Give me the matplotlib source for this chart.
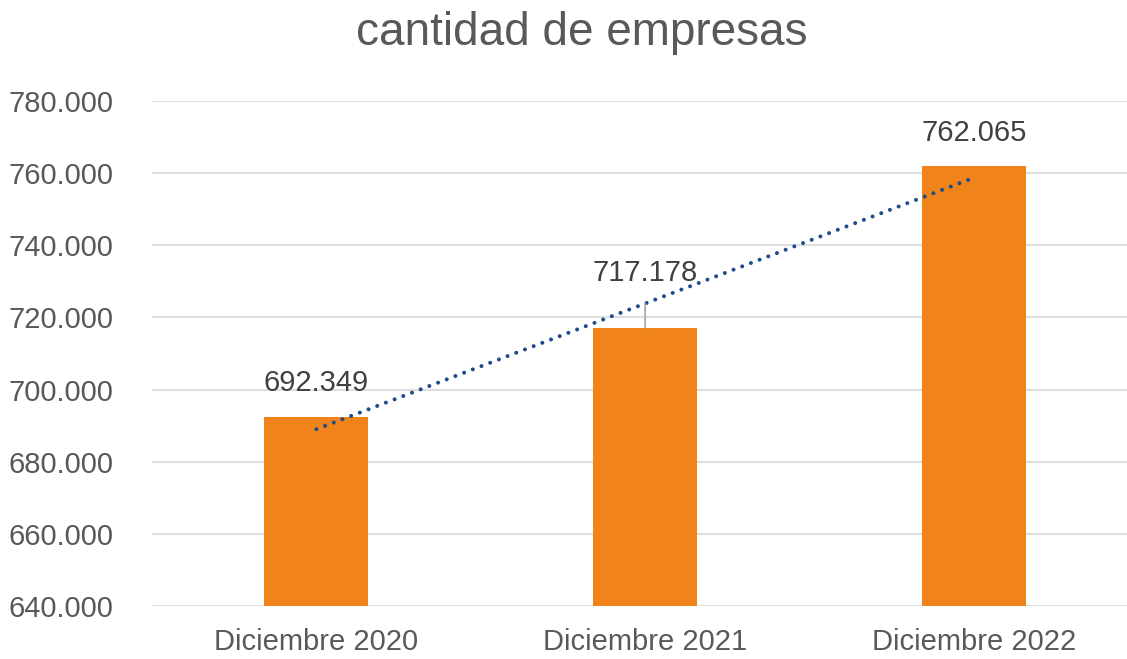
import numpy as np
import matplotlib
matplotlib.use("Agg")
import matplotlib.pyplot as plt
from matplotlib.ticker import FuncFormatter

# data
categories = ["Diciembre 2020", "Diciembre 2021", "Diciembre 2022"]
empresas = [692349, 717178, 762065]
yticks = np.arange(640000, 780001, 20000)

plt.rcParams['font.family'] = ['Liberation Sans', 'DejaVu Sans']

orange = "#F0831A"
grey_txt = "#595959"
trend_col = "#1E4B8B"


def fmt_miles(v, pos=None):
    return f"{v:,.0f}".replace(",", ".")


fig = plt.figure(figsize=(11.27, 6.59), dpi=100)
ax = fig.add_axes([152/1127, 1-606/659, (1127-152)/1127, (606-101)/659])

x = np.arange(len(categories))
ax.bar(x, empresas, width=0.316, color=orange, zorder=2)

# linear trendline
m, b = np.polyfit(x, empresas, 1)
ax.plot(x, m*x + b, color=trend_col, lw=2.9, ls=(0, (0.01, 2.3)),
        dash_capstyle="round", solid_capstyle="round", zorder=3)

ax.set_xlim(-0.5, 2.466)
ax.set_ylim(yticks[0], yticks[-1])
ax.set_yticks(yticks)
ax.yaxis.set_major_formatter(FuncFormatter(fmt_miles))
ax.set_xticks(x)
ax.set_xticklabels(categories)
ax.tick_params(axis="both", length=0, labelsize=21, labelcolor=grey_txt)
ax.tick_params(axis="y", pad=28)
ax.tick_params(axis="x", pad=16)
ax.grid(axis="y", color="#DEDEDE", lw=1.5, zorder=0)
ax.set_axisbelow(True)
for s in ax.spines.values():
    s.set_visible(False)

# data labels (offset in px above bar top)
offsets = [34, 55, 33]
for xi, v, off in zip(x, empresas, offsets):
    if off > 40:
        ax.annotate(fmt_miles(v), xy=(xi, v), xytext=(0, off*0.72),
                    textcoords="offset points", ha="center", va="center",
                    fontsize=21, color="#404040",
                    arrowprops=dict(arrowstyle="-", color="#A6A6A6", lw=1.2,
                                    shrinkA=10, shrinkB=0))
    else:
        ax.annotate(fmt_miles(v), xy=(xi, v), xytext=(0, off*0.72),
                    textcoords="offset points", ha="center", va="center",
                    fontsize=21, color="#404040")

fig.text(582/1127, 1-33/659, "cantidad de empresas", ha="center", va="center",
         fontsize=33, color=grey_txt)

fig.savefig("out.png", dpi=100)
